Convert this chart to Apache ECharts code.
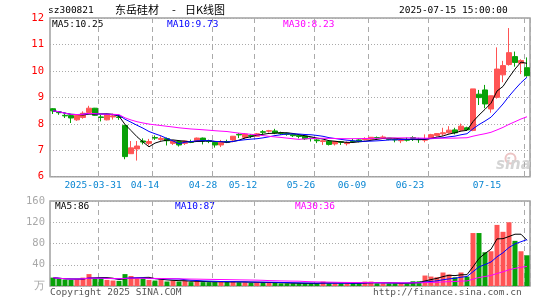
<!DOCTYPE html>
<html>
<head>
<meta charset="utf-8">
<script src="https://cdn.jsdelivr.net/npm/echarts@6/dist/echarts.min.js"></script>
<style>
html, body { margin: 0; padding: 0; background: #fff; }
#main { width: 545px; height: 300px; }
</style>
</head>
<body>
<div id="main"></div>
<script>
// 交易日
var dates = [
  '2025-03-19','2025-03-20','2025-03-21','2025-03-24','2025-03-25','2025-03-26','2025-03-27','2025-03-28','2025-03-31',
  '2025-04-01','2025-04-02','2025-04-03','2025-04-07','2025-04-08','2025-04-09','2025-04-10','2025-04-11','2025-04-14',
  '2025-04-15','2025-04-16','2025-04-17','2025-04-18','2025-04-21','2025-04-22','2025-04-23','2025-04-24','2025-04-25',
  '2025-04-28','2025-04-29','2025-04-30',
  '2025-05-06','2025-05-07','2025-05-08','2025-05-09','2025-05-12','2025-05-13','2025-05-14','2025-05-15','2025-05-16',
  '2025-05-19','2025-05-20','2025-05-21','2025-05-22','2025-05-23','2025-05-26','2025-05-27','2025-05-28','2025-05-29','2025-05-30',
  '2025-06-03','2025-06-04','2025-06-05','2025-06-06','2025-06-09','2025-06-10','2025-06-11','2025-06-12','2025-06-13',
  '2025-06-16','2025-06-17','2025-06-18','2025-06-19','2025-06-20','2025-06-23','2025-06-24','2025-06-25','2025-06-26','2025-06-27','2025-06-30',
  '2025-07-01','2025-07-02','2025-07-03','2025-07-04','2025-07-07','2025-07-08','2025-07-09','2025-07-10','2025-07-11','2025-07-14','2025-07-15'
];
var openP = [
  8.57,8.44,8.32,8.31,8.15,8.24,8.43,8.59,8.26,8.15,
  8.26,8.26,7.94,6.87,7.05,7.35,7.26,7.48,7.41,7.44,
  7.26,7.33,7.26,7.33,7.33,7.46,7.36,7.30,7.20,7.33,
  7.39,7.60,7.49,7.56,7.53,7.70,7.72,7.73,7.66,7.64,
  7.60,7.57,7.54,7.46,7.39,7.33,7.34,7.24,7.32,7.25,
  7.35,7.39,7.40,7.42,7.48,7.46,7.45,7.42,7.36,7.40,
  7.48,7.42,7.38,7.44,7.56,7.62,7.66,7.77,7.76,7.85,
  7.75,9.12,9.28,8.56,9.00,9.85,10.24,10.54,10.29,10.12
];
var closeP = [
  8.49,8.42,8.30,8.22,8.32,8.40,8.59,8.32,8.24,8.34,
  8.30,8.24,6.76,7.09,7.16,7.31,7.33,7.46,7.45,7.36,
  7.35,7.20,7.35,7.30,7.46,7.36,7.33,7.20,7.30,7.30,
  7.53,7.58,7.61,7.53,7.62,7.68,7.74,7.65,7.63,7.60,
  7.55,7.52,7.43,7.44,7.36,7.36,7.22,7.33,7.30,7.29,
  7.33,7.34,7.43,7.49,7.47,7.50,7.41,7.39,7.39,7.38,
  7.45,7.40,7.42,7.59,7.63,7.66,7.76,7.66,7.91,7.77,
  9.32,8.99,8.75,9.06,10.07,10.20,10.69,10.32,10.39,9.82
];
var lowP = [
  8.37,8.34,8.22,8.03,8.11,8.19,8.37,8.30,8.09,8.13,
  8.16,8.15,6.66,6.87,6.61,7.22,7.18,7.39,7.36,7.18,
  7.20,7.14,7.20,7.27,7.33,7.22,7.27,7.10,7.12,7.27,
  7.30,7.46,7.43,7.46,7.53,7.61,7.67,7.61,7.58,7.55,
  7.50,7.45,7.39,7.33,7.27,7.20,7.18,7.18,7.20,7.18,
  7.30,7.30,7.37,7.40,7.40,7.43,7.38,7.30,7.27,7.33,
  7.35,7.28,7.30,7.44,7.52,7.55,7.63,7.60,7.72,7.74,
  7.72,8.71,8.59,8.42,8.95,9.57,10.20,10.16,9.88,9.78
];
var highP = [
  8.59,8.46,8.38,8.37,8.34,8.47,8.68,8.60,8.34,8.38,
  8.38,8.34,7.96,7.35,7.35,7.45,7.43,7.56,7.53,7.48,
  7.38,7.33,7.36,7.40,7.48,7.48,7.40,7.33,7.39,7.40,
  7.53,7.65,7.65,7.61,7.65,7.76,7.77,7.81,7.70,7.66,
  7.62,7.60,7.56,7.47,7.42,7.39,7.37,7.33,7.33,7.33,
  7.43,7.42,7.49,7.50,7.52,7.56,7.46,7.45,7.42,7.48,
  7.53,7.47,7.60,7.62,7.65,7.85,7.91,7.85,8.01,7.89,
  9.32,9.28,9.47,9.06,10.89,10.38,11.62,10.73,10.44,10.51
];
// 成交量(万)
var volume = [
  15.8,13.3,12.1,11.5,12.7,15.8,22.4,14.5,14.5,11.5,
  10.3,9.7,22.4,18.8,14.5,14.5,11.5,10.3,12.7,8.5,
  10.3,8.5,9.7,7.3,9.7,7.3,7.3,7.3,8.5,7.3,
  8.5,7.0,7.0,6.0,7.0,7.0,6.0,6.0,5.0,5.0,
  5.0,5.0,5.0,5.0,5.0,8.3,5.0,5.0,5.0,5.0,
  5.0,5.0,8.3,8.3,5.0,5.0,5.0,5.0,5.0,5.0,
  8.9,8.9,19.7,17.8,16.5,25.4,21.6,16.5,25.4,17.8,
  99.7,99.7,63.5,65.4,115,102,120,85,65.4,57.8
];
// 横轴标注日期
var tickDates = ['2025-03-31','2025-04-14','2025-04-28','2025-05-12','2025-05-26','2025-06-09','2025-06-23','2025-07-15'];

var RED = '#ff5454', GREEN = '#08a108';
var MONO = 'DejaVu Sans Mono';

function ma(arr, n) {
  return arr.map(function (v, i) {
    var s = 0, c = 0;
    for (var k = Math.max(0, i - n + 1); k <= i; k++) { s += arr[k]; c++; }
    return +(s / c).toFixed(3);
  });
}

var myChart = echarts.init(document.getElementById('main'));

var kData = dates.map(function (d, i) { return [openP[i], closeP[i], lowP[i], highP[i]]; });
var volData = volume.map(function (v, i) {
  return { value: v, itemStyle: { color: closeP[i] >= openP[i] ? RED : GREEN } };
});
var labelIdx = tickDates.map(function (d) { return dates.indexOf(d); });

// 日期标签往左偏一点
var rich = {};
labelIdx.forEach(function (ci, k) {
  var shift = k === labelIdx.length - 1 ? 40 : Math.round(3.7 + 0.04 * (53 + 6 * ci));
  rich['s' + k] = { padding: [0, shift * 2, 0, 0], color: '#0a86d2', fontFamily: MONO, fontSize: 9.5 };
});

function isTick(i) { return labelIdx.indexOf(i) >= 0; }

var vSplit = { show: true, interval: function (i) { return isTick(i); }, lineStyle: { color: '#aaa', type: [5, 4], width: 1 } };
var hSplit = { show: true, lineStyle: { color: '#aaa', type: [1, 2], width: 1 } };

function txt(x, y, s, color, opt) {
  var st = { text: s, fill: color || '#000', font: '9.5px "DejaVu Sans Mono"', textVerticalAlign: 'middle' };
  if (opt) for (var k in opt) st[k] = opt[k];
  return { type: 'text', left: x, top: y, style: st, silent: true };
}
function cjk(x, s) {
  return { type: 'text', left: x, top: 4, silent: true, style: { text: s, fill: '#000', font: '11px "Noto Sans CJK SC"' } };
}

var option = {
  animation: false,
  backgroundColor: '#fff',
  grid: [
    { left: 50, top: 18, width: 480, height: 158.7, show: true, borderColor: '#a0a0a0', borderWidth: 1.5, containLabel: false, outerBoundsMode: 'none' },
    { left: 50, top: 201, width: 480, height: 85, show: true, borderColor: '#a0a0a0', borderWidth: 1.5, containLabel: false, outerBoundsMode: 'none' }
  ],
  xAxis: [
    {
      type: 'category', gridIndex: 0, data: dates, boundaryGap: true,
      axisLine: { show: false }, axisTick: { show: false },
      axisLabel: {
        interval: function (i) { return isTick(i); },
        formatter: function (v, i) {
          var k = labelIdx.indexOf(i);
          var t = k === 0 ? v : v.slice(5);
          return '{s' + k + '|' + t + '}';
        },
        rich: rich, margin: 4, hideOverlap: false
      },
      splitLine: vSplit
    },
    {
      type: 'category', gridIndex: 1, data: dates, boundaryGap: true,
      axisLine: { show: false }, axisTick: { show: false }, axisLabel: { show: false },
      splitLine: vSplit
    }
  ],
  yAxis: [
    {
      type: 'value', gridIndex: 0, min: 6, max: 12, interval: 1,
      axisLine: { show: false }, axisTick: { show: false },
      axisLabel: { color: '#ff0000', fontFamily: MONO, fontSize: 10.5, margin: 6 },
      splitLine: hSplit
    },
    {
      type: 'value', gridIndex: 1, min: 0, max: 160, interval: 40,
      axisLine: { show: false }, axisTick: { show: false },
      axisLabel: {
        color: '#a8a8a8', fontFamily: MONO, fontSize: 10.5, margin: 5,
        formatter: function (v) { return v === 0 ? '万' : String(v); }
      },
      splitLine: hSplit
    }
  ],
  series: [
    {
      type: 'candlestick', xAxisIndex: 0, yAxisIndex: 0, data: kData, barWidth: 5,
      itemStyle: { color: RED, color0: GREEN, borderColor: RED, borderColor0: GREEN, borderWidth: 1 }
    },
    { type: 'line', xAxisIndex: 0, yAxisIndex: 0, data: ma(closeP, 5), showSymbol: false, lineStyle: { color: '#000', width: 1 } },
    { type: 'line', xAxisIndex: 0, yAxisIndex: 0, data: ma(closeP, 10), showSymbol: false, lineStyle: { color: '#0000ff', width: 1 } },
    { type: 'line', xAxisIndex: 0, yAxisIndex: 0, data: ma(closeP, 30), showSymbol: false, lineStyle: { color: '#ff00ff', width: 1 } },
    { type: 'bar', xAxisIndex: 1, yAxisIndex: 1, data: volData, barWidth: 5 },
    { type: 'line', xAxisIndex: 1, yAxisIndex: 1, data: ma(volume, 5), showSymbol: false, lineStyle: { color: '#000', width: 1 } },
    { type: 'line', xAxisIndex: 1, yAxisIndex: 1, data: ma(volume, 10), showSymbol: false, lineStyle: { color: '#0000ff', width: 1 } },
    { type: 'line', xAxisIndex: 1, yAxisIndex: 1, data: ma(volume, 30), showSymbol: false, lineStyle: { color: '#ff00ff', width: 1 } }
  ],
  graphic: [
    txt(48, 6, 'sz300821'),
    cjk(115, '东岳硅材'),
    cjk(172, '-'),
    cjk(185, '日K线图'),
    txt(399, 6, '2025-07-15 15:00:00'),
    txt(52, 20, 'MA5:10.25', '#000'),
    txt(167, 20, 'MA10:9.73', '#0000ff'),
    txt(283, 20, 'MA30:8.23', '#ff00ff'),
    txt(55, 202, 'MA5:86', '#000'),
    txt(175, 202, 'MA10:87', '#0000ff'),
    txt(295, 202, 'MA30:36', '#ff00ff'),
    txt(50, 288, 'Copyright 2025 SINA.COM', '#555'),
    txt(373, 288, 'http://finance.sina.com.cn', '#555'),
    { type: 'circle', left: 503, top: 151, silent: true, shape: { r: 5 }, style: { fill: 'none', stroke: '#ecc4c4', lineWidth: 2 } },
    { type: 'text', left: 496, top: 158, silent: true, style: { text: 'sina', fill: '#d4d4d4', font: 'italic bold 15px "DejaVu Sans"' } }
  ]
};

myChart.setOption(option);
</script>
</body>
</html>
